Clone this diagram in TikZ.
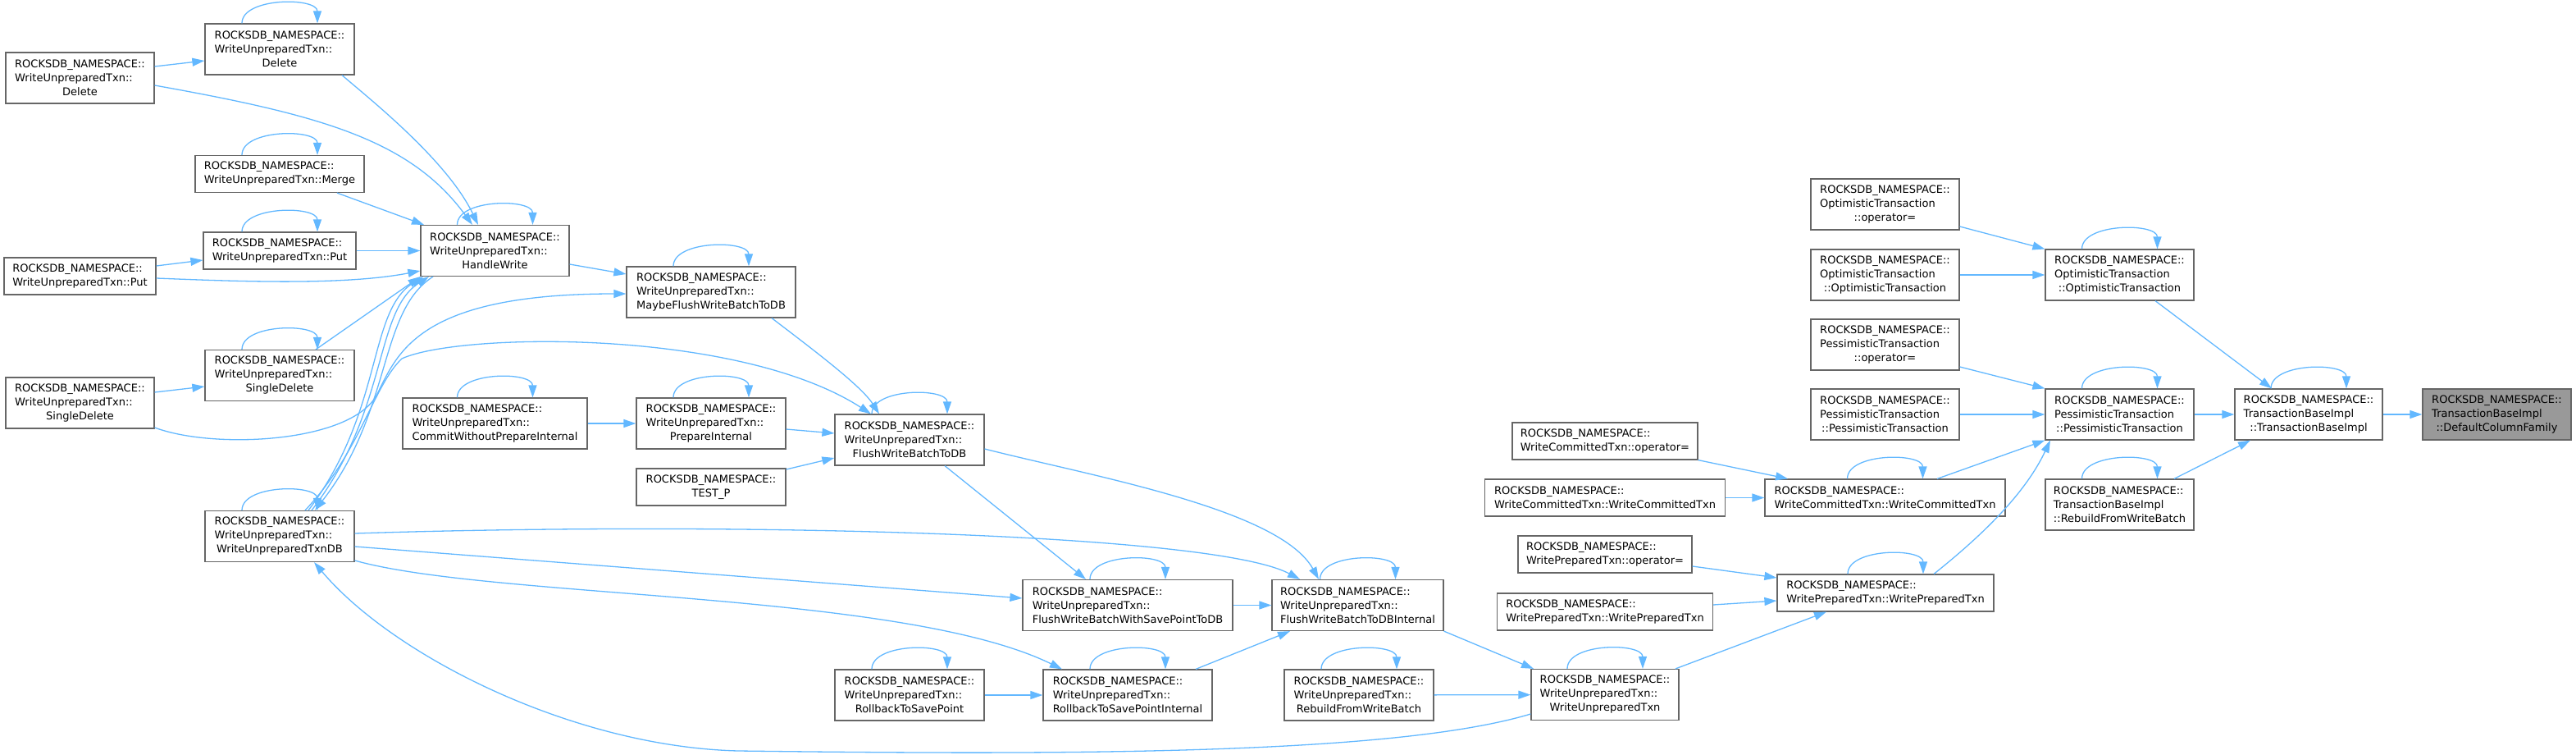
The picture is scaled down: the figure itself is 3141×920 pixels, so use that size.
\documentclass[tikz,border=0pt]{standalone}
\usepackage{fontspec}
\setmainfont{DejaVu Sans}
\usetikzlibrary{arrows.meta}

\definecolor{callblue}{HTML}{63B8FF}
\definecolor{boxline}{HTML}{666666}
\definecolor{hilite}{HTML}{999999}
\newcommand{\rns}{ROCKSDB\_NAMESPACE::}
\newcommand{\midln}[1]{\null\hfill#1\hfill\null}

\begin{document}
\begin{tikzpicture}[
    x=1pt, y=-1pt,
    fn/.style={draw=boxline, line width=1.2pt, fill=white, align=left, inner xsep=4pt, inner ysep=2pt,
               font=\fontsize{13}{17}\selectfont, minimum width=182pt, minimum height=62pt},
    fntwo/.style={fn, minimum height=45pt},
    focus/.style={fn, fill=hilite},
    call/.style={draw=callblue, line width=1.3pt, -{Triangle[length=15pt,width=10pt]}}
  ]
  \useasboundingbox (0,0) rectangle (3141,920);

  % WriteUnpreparedTxn write paths
  \node[fn, minimum width=181pt] (delL) at (97.5,95) {\rns\\WriteUnpreparedTxn::\\\midln{Delete}};
  \node[fn] (delM) at (341,60) {\rns\\WriteUnpreparedTxn::\\\midln{Delete}};
  \node[fntwo, minimum width=206pt] (merge) at (341,212) {\rns\\WriteUnpreparedTxn::Merge};
  \node[fntwo, minimum width=186pt] (putM) at (341,305.5) {\rns\\WriteUnpreparedTxn::Put};
  \node[fntwo, minimum width=185pt] (putL) at (97.5,336.5) {\rns\\WriteUnpreparedTxn::Put};
  \node[fn, minimum width=181pt] (hw) at (603.5,305.5) {\rns\\WriteUnpreparedTxn::\\\midln{HandleWrite}};
  \node[fn] (sdM) at (341,457.5) {\rns\\WriteUnpreparedTxn::\\\midln{SingleDelete}};
  \node[fn, minimum width=181pt] (sdL) at (97.5,491) {\rns\\WriteUnpreparedTxn::\\\midln{SingleDelete}};
  \node[fn] (db) at (341,653.5) {\rns\\WriteUnpreparedTxn::\\\midln{WriteUnpreparedTxnDB}};
  \node[fn, minimum width=225pt] (cwp) at (603.5,516) {\rns\\WriteUnpreparedTxn::\\CommitWithoutPrepareInternal};
  \node[fn, minimum width=206pt] (mf) at (867,356) {\rns\\WriteUnpreparedTxn::\\MaybeFlushWriteBatchToDB};
  \node[fn] (pi) at (867,516) {\rns\\WriteUnpreparedTxn::\\\midln{PrepareInternal}};
  \node[fntwo] (tp) at (867,593.5) {\rns\\\midln{TEST\_P}};
  \node[fn] (fw) at (1109,536) {\rns\\WriteUnpreparedTxn::\\\midln{FlushWriteBatchToDB}};
  \node[fn, minimum width=256pt] (fsp) at (1375,737.5) {\rns\\WriteUnpreparedTxn::\\FlushWriteBatchWithSavePointToDB};
  \node[fn, minimum width=209pt] (fi) at (1655.5,737.5) {\rns\\WriteUnpreparedTxn::\\FlushWriteBatchToDBInternal};
  \node[fn] (rsp) at (1109,847) {\rns\\WriteUnpreparedTxn::\\\midln{RollbackToSavePoint}};
  \node[fn, minimum width=206pt] (rspi) at (1375,847) {\rns\\WriteUnpreparedTxn::\\RollbackToSavePointInternal};
  \node[fn] (rb) at (1657,847) {\rns\\WriteUnpreparedTxn::\\\midln{RebuildFromWriteBatch}};
  \node[fn, minimum width=180pt] (wut) at (1957,846.5) {\rns\\WriteUnpreparedTxn::\\\midln{WriteUnpreparedTxn}};

  % WritePrepared / WriteCommitted
  \node[fntwo, minimum width=212pt] (wptop) at (1957,675.5) {\rns\\WritePreparedTxn::operator=};
  \node[fntwo, minimum width=263pt] (wptL) at (1957,745.5) {\rns\\WritePreparedTxn::WritePreparedTxn};
  \node[fntwo, minimum width=264pt] (wpt) at (2299,722.5) {\rns\\WritePreparedTxn::WritePreparedTxn};
  \node[fntwo, minimum width=226pt] (wctop) at (1957,537.5) {\rns\\WriteCommittedTxn::operator=};
  \node[fntwo, minimum width=293pt] (wctL) at (1957,606.5) {\rns\\WriteCommittedTxn::WriteCommittedTxn};
  \node[fntwo, minimum width=293pt] (wct) at (2298.5,606.5) {\rns\\WriteCommittedTxn::WriteCommittedTxn};

  % transaction classes
  \node[fn, minimum width=181pt] (otop) at (2298.5,249) {\rns\\OptimisticTransaction\\\midln{::operator=}};
  \node[fn, minimum width=181pt] (otL) at (2298.5,335) {\rns\\OptimisticTransaction\\\midln{::OptimisticTransaction}};
  \node[fn, minimum width=181pt] (ot) at (2584.5,335) {\rns\\OptimisticTransaction\\\midln{::OptimisticTransaction}};
  \node[fn, minimum width=181pt] (ptop) at (2298.5,420) {\rns\\PessimisticTransaction\\\midln{::operator=}};
  \node[fn, minimum width=181pt] (ptL) at (2298.5,505) {\rns\\PessimisticTransaction\\\midln{::PessimisticTransaction}};
  \node[fn, minimum width=181pt] (pt) at (2584.5,505) {\rns\\PessimisticTransaction\\\midln{::PessimisticTransaction}};
  \node[fn, minimum width=180pt] (tbi) at (2815,505) {\rns\\TransactionBaseImpl\\\midln{::TransactionBaseImpl}};
  \node[focus, minimum width=181pt] (dcf) at (3044.5,505) {\rns\\TransactionBaseImpl\\\midln{::DefaultColumnFamily}};
  \node[fn, minimum width=181pt] (tbrb) at (2584.5,615) {\rns\\TransactionBaseImpl\\\midln{::RebuildFromWriteBatch}};

  % recursive calls
  \foreach \n in {delM,merge,putM,hw,sdM,db,cwp,mf,pi,fw,fsp,fi,rsp,rspi,rb,wut,wct,wpt,ot,pt,tbi,tbrb}
    \draw[call] ([xshift=-46pt]\n.north) .. controls +(0,-32) and +(0,-32) .. ([xshift=46pt]\n.north);

  % into HandleWrite
  \draw[call] (delL.east |- 0,81) -- (delM.west |- 0,74);
  \draw[call] (delL.east |- 0,104) .. controls (390,140) and (500,170) .. (hw.north -| 576,0);
  \draw[call] (delM.south -| 417,0) .. controls (450,120) and (545,195) .. (hw.north -| 583,0);
  \draw[call] (merge.south -| 411,0) -- (hw.north -| 517,0);
  \draw[call] (putM) -- (hw);
  \draw[call] (putL.east |- 0,324) -- (putM.west |- 0,317);
  \draw[call] (putL.east |- 0,339) .. controls (290,343) and (420,348) .. (hw.west |- 0,330);
  \draw[call] (sdL.east |- 0,478) -- (sdM.west |- 0,471);
  \draw[call] (sdL.east |- 0,521) .. controls (260,548) and (430,540) .. (460,480)
              .. controls (485,430) and (510,358) .. (mf.west |- 0,358);
  \draw[call] (sdM.north -| 385,0) -- (hw.south west);
  \draw[call] (db.north -| 376,0) .. controls (468,500) and (448,380) .. (hw.south -| 516,0);
  \draw[call] (db.north -| 380,0) .. controls (474,500) and (456,380) .. (hw.south -| 523,0);
  \draw[call] (hw.south -| 528,0) .. controls (461,380) and (479,500) .. (db.north -| 384,0);
  \draw[call] (db.north -| 372,0) .. controls (440,550) and (455,470) .. (490,437)
              .. controls (560,405) and (900,400) .. (fw.north -| 1062,0);

  % flush path
  \draw[call] (hw.east |- 0,322) -- (mf.west |- 0,334);
  \draw[call] (mf.south -| 941,0) .. controls (990,425) and (1050,470) .. (fw.north -| 1072,0);
  \draw[call] (cwp) -- (pi);
  \draw[call] (pi.east |- 0,523) -- (fw.west |- 0,528);
  \draw[call] (tp.east |- 0,572) -- (fw.west |- 0,558);
  \draw[call] (fw.south -| 1152,0) -- (fsp.north -| 1324,0);
  \draw[call] (fw.east |- 0,547) .. controls (1330,580) and (1560,620) .. (fi.north -| 1608,0);
  \draw[call] (db.east |- 0,650) .. controls (900,635) and (1480,650) .. (fi.north -| 1585,0);
  \draw[call] (db.east |- 0,666) -- (fsp.west |- 0,729);
  \draw[call] (db.east |- 0,683) .. controls (600,730) and (1100,720) .. (rspi.north -| 1295,0);
  \draw[call] (wut.west |- 0,870) .. controls (1700,920) and (1300,920) .. (900,915)
              .. controls (700,910) and (480,800) .. (db.south -| 383,0);
  \draw[call] (fsp) -- (fi);
  \draw[call] (rspi.north -| 1458,0) -- (fi.south -| 1573,0);
  \draw[call] (rsp) -- (rspi);
  \draw[call] (rb) -- (wut);
  \draw[call] (fi.south east) -- (wut.north -| 1870,0);

  % up to the base class
  \draw[call] (wut.north -| 2043,0) -- (wpt.south -| 2227,0);
  \draw[call] (wptop.east |- 0,690) -- (wpt.west |- 0,704);
  \draw[call] (wptL.east |- 0,737) -- (wpt.west |- 0,732);
  \draw[call] (wpt.north -| 2358,0) .. controls (2420,650) and (2470,600) .. (pt.south -| 2500,0);
  \draw[call] (wct.north -| 2362,0) -- (pt.south west);
  \draw[call] (wctop.south east) -- (wct.north -| 2180,0);
  \draw[call] (wctL) -- (wct);
  \draw[call] (otop.east |- 0,276) -- (ot.north west);
  \draw[call] (otL) -- (ot);
  \draw[call] (ot.south -| 2628,0) -- (tbi.north -| 2770,0);
  \draw[call] (ptop.east |- 0,447) -- (pt.north west);
  \draw[call] (ptL) -- (pt);
  \draw[call] (pt) -- (tbi);
  \draw[call] (tbi) -- (dcf);
  \draw[call] (tbrb.north -| 2651,0) -- (tbi.south -| 2744,0);
\end{tikzpicture}
\end{document}
